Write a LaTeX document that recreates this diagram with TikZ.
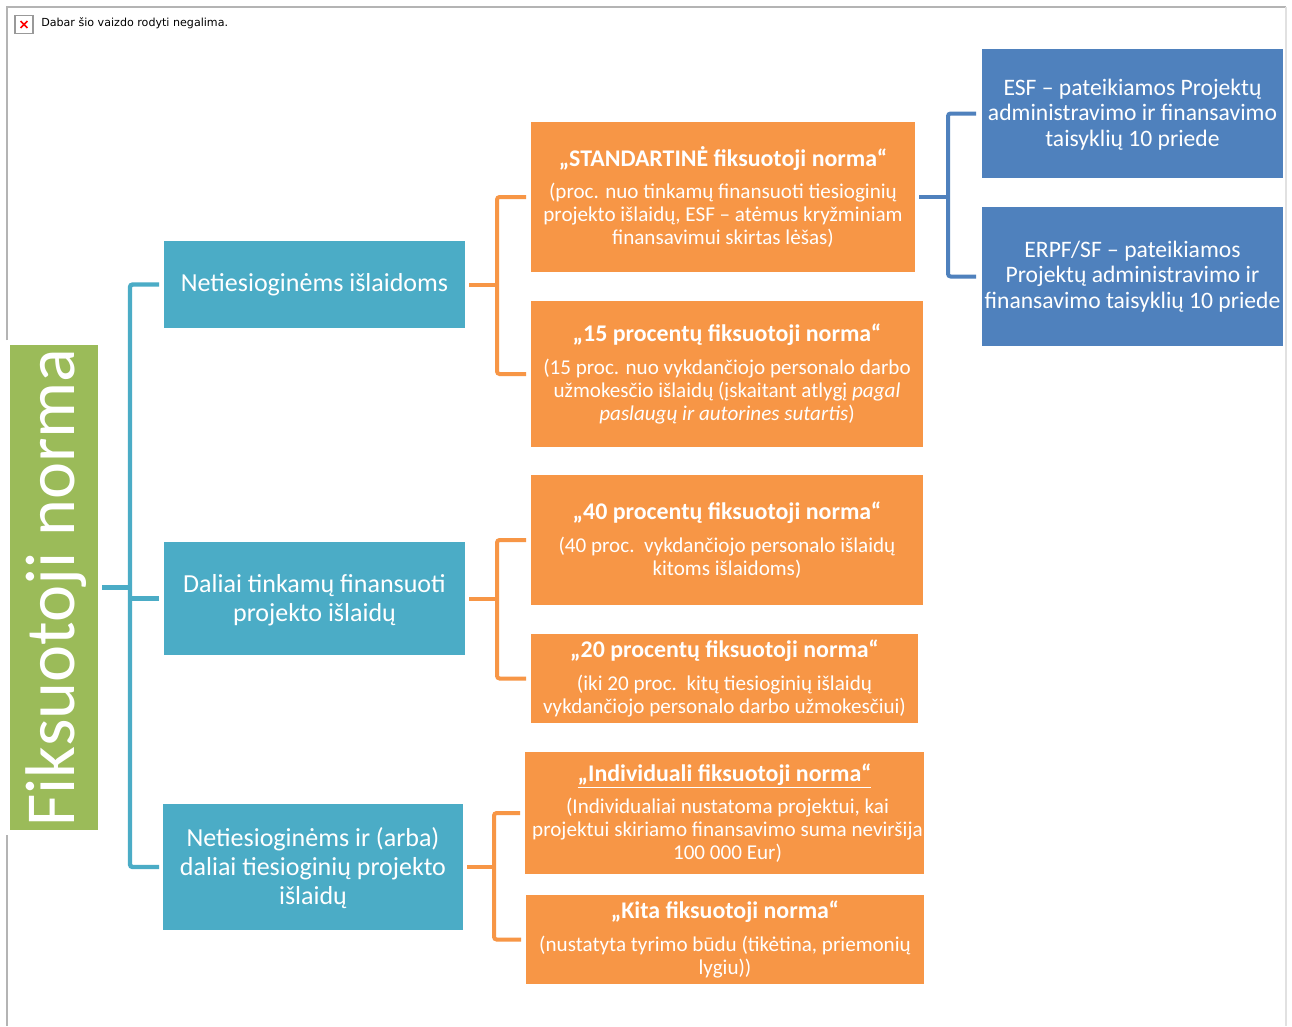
\documentclass[tikz,border=0pt]{standalone}
\usepackage{fontspec}
\setmainfont{Carlito}
\newfontfamily\uifont{DejaVu Sans}
\definecolor{cgreen}{HTML}{9BBB59}
\definecolor{cteal}{HTML}{4BACC6}
\definecolor{corange}{HTML}{F79646}
\definecolor{cblue}{HTML}{4F81BD}
\definecolor{cframe}{HTML}{B4B4B4}
\newcommand{\pxfont}[2]{\fontsize{\dimexpr #1pt*3/4\relax}{\dimexpr #2pt*3/4\relax}\selectfont}
\newcommand{\bx}[8]{% name style x1 y1 x2 y2 dy text
  \node[#2, minimum width={(#5-#3)*0.75pt}, minimum height={(#6-#4)*0.75pt}] (#1) at ({(#3+#5)/2},{(#4+#6)/2}) {};
  \node[#2text] (#1t) at ([yshift=-#7*0.75pt]#1.center) {#8};}
\newcommand{\ttl}[1]{\textbf{\pxfont{23.9}{23}#1}\\[7pt]}
\newcommand{\sh}{\hspace*{4.5pt}}
\tikzset{
  x=0.75pt,y=-0.75pt,
  base/.style={inner sep=0pt,outer sep=0pt},
  basetext/.style={inner sep=0pt,outer sep=0pt,text=white,align=center},
  lone/.style={base,fill=cteal},
  lonetext/.style={basetext,font=\pxfont{26}{29}},
  orange/.style={base,fill=corange},
  orangetext/.style={basetext,font=\pxfont{21.1}{23}},
  blue/.style={base,fill=cblue},
  bluetext/.style={basetext,font=\pxfont{23.6}{25.5}},
  conn/.style={line width=3pt,rounded corners=2pt},
  tealc/.style={conn,draw=cteal,line width=3.3pt},
  orangec/.style={conn,draw=corange},
  bluec/.style={conn,draw=cblue},
  frameline/.style={draw=cframe,line width=0.9pt}
}
\newcommand{\bracket}[6]{% style spine parent c1 c2 childgap
  \coordinate (sp#3) at (#2,0);
  \draw[#1] ([xshift=-#6*0.75pt]#4.west) -- (sp#3 |- #4.west) -- (sp#3 |- #5.west) -- ([xshift=-#6*0.75pt]#5.west);
  \draw[#1] ([xshift=4*0.75pt]#3.east) -- (sp#3 |- #3.east);}
\begin{document}
\begin{tikzpicture}
\useasboundingbox[fill=white] (0,0) rectangle (1292,1026);
% frame of the missing picture
\coordinate (ftl) at (7,7);
\coordinate (ftr) at (1286,7);
\coordinate (fbr) at (1286,1026);
\coordinate (fa) at (7,340);
\coordinate (fb) at (7,835);
\coordinate (fc) at (7,1026);
\draw[frameline] (fa) -- (ftl) -- (ftr);
\draw[draw=cframe!40,line width=0.9pt] (ftr) -- (fbr);
\draw[frameline] (fb) -- (fc);
\node[draw=gray!80,fill=white,line width=0.8pt,minimum size=13.5pt,inner sep=0pt] (icon) at (24,24.5) {};
\draw[red,line width=1.3pt] ([shift={(-2.6pt,-2.6pt)}]icon.center) -- ([shift={(2.6pt,2.6pt)}]icon.center)
  ([shift={(-2.6pt,2.6pt)}]icon.center) -- ([shift={(2.6pt,-2.6pt)}]icon.center);
\node[anchor=west,inner sep=0pt,text=black,font=\uifont\pxfont{11.1}{13}] (msg) at (41,23.5) {Dabar šio vaizdo rodyti negalima.};
% root
\node[base,fill=cgreen,minimum width=66pt,minimum height=363.75pt] (root) at (54,587.5) {};
\node[rotate=90,text=white,inner sep=0pt,font=\pxfont{70.3}{70}] (roottext) at ([xshift=1.5pt]root.center) {Fiksuotoji norma};
% level 1
\bx{n1}{lone}{164}{241}{465}{328}{0}{Netiesioginėms išlaidoms}
\bx{n2}{lone}{164}{542}{465}{655}{1.5}{Daliai tinkamų finansuoti\\projekto išlaidų}
\bx{n3}{lone}{163}{804}{463}{930}{0.7}{Netiesioginėms ir (arba)\\daliai tiesioginių projekto\\išlaidų}
% level 2
\bx{a}{orange}{531}{122}{915}{272}{0}{\ttl{„STANDARTINĖ fiksuotoji norma“}(proc. nuo tinkamų finansuoti tiesioginių\\projekto išlaidų, ESF – atėmus kryžminiam\\finansavimui skirtas lėšas)}
\bx{b}{orange}{531}{301}{923}{447}{0}{\ttl{„15 procentų fiksuotoji norma“}(15 proc. nuo vykdančiojo personalo darbo\\užmokesčio išlaidų (įskaitant atlygį \textit{pagal}\\\textit{paslaugų ir autorines sutartis})}
\bx{c}{orange}{531}{475}{923}{605}{0}{\ttl{„40 procentų fiksuotoji norma“}(40 proc.\ \ vykdančiojo personalo išlaidų\\kitoms išlaidoms)}
\bx{d}{orange}{531}{634}{918}{723}{0}{\ttl{„20 procentų fiksuotoji norma“}(iki 20 proc.\ \ kitų tiesioginių išlaidų\\vykdančiojo personalo darbo užmokesčiui)}
\bx{e}{orange}{525}{752}{924}{874}{0}{\ttl{\underline{„Individuali fiksuotoji norma“}}\sh(Individualiai nustatoma projektui, kai\\\sh projektui skiriamo finansavimo suma neviršija\\\sh 100 000 Eur)}
\bx{f}{orange}{526}{895}{924}{984}{0}{\ttl{„Kita fiksuotoji norma“}(nustatyta tyrimo būdu (tikėtina, priemonių\\lygiu))}
% right
\bx{g}{blue}{982}{49}{1283}{178}{1}{ESF – pateikiamos Projektų\\administravimo ir finansavimo\\taisyklių 10 priede}
\bx{h}{blue}{982}{207}{1283}{346}{0}{ERPF/SF – pateikiamos\\Projektų administravimo ir\\finansavimo taisyklių 10 priede}
% connectors
\coordinate (sproot) at (130,0);
\draw[tealc] ([xshift=-5*0.75pt]n1.west) -- (sproot |- n1.west) -- (sproot |- n3.west) -- ([xshift=-4*0.75pt]n3.west);
\draw[tealc] ([xshift=-5*0.75pt]n2.west) -- (sproot |- n2.west);
\draw[tealc] ([xshift=4*0.75pt]root.east) -- (sproot |- root.east);
\bracket{orangec}{497}{n1}{a}{b}{5}
\bracket{orangec}{497}{n2}{c}{d}{5}
\bracket{orangec}{494}{n3}{e}{f}{5}
\bracket{bluec}{948}{a}{g}{h}{6}
\end{tikzpicture}
\end{document}
